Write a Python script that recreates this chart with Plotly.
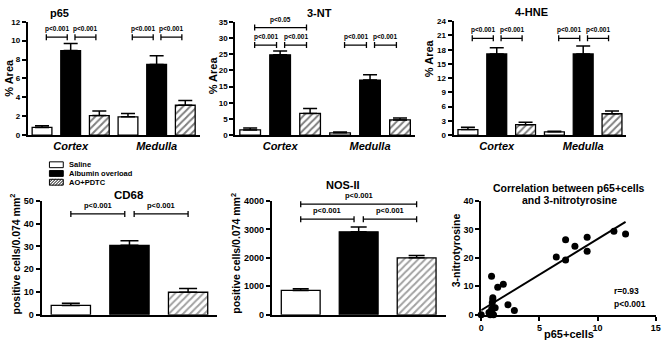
import plotly.graph_objects as go

W, H = 666, 346
FONT = "Liberation Sans, Arial, Helvetica, sans-serif"


def px(x):
    return x / W


def py(y):
    return 1 - y / H


# ---------------- data ----------------
conditions = ["Saline", "Albumin overload", "AO+PDTC"]
regions = ["Cortex", "Medulla"]

# per condition (Saline, Albumin overload, AO+PDTC), values for [Cortex, Medulla]
p65_mean = [[0.82, 1.94], [8.95, 7.48], [2.07, 3.16]]
p65_err = [[0.18, 0.36], [0.75, 0.92], [0.48, 0.51]]

nt_mean = [[1.6, 0.7], [24.8, 17.0], [6.7, 4.7]]
nt_err = [[0.6, 0.3], [1.2, 1.6], [1.5, 0.6]]

hne_mean = [[1.17, 0.7], [17.1, 17.1], [2.2, 4.5]]
hne_err = [[0.5, 0.12], [1.3, 1.7], [0.5, 0.6]]

# per condition
cd68_mean = [4.1, 30.5, 9.9]
cd68_err = [1.0, 2.0, 1.6]

nos_mean = [857, 2914, 2000]
nos_err = [57, 172, 80]

# correlation scatter
p65_cells = [0, 0.67, 0.78, 0.95, 1.06, 1.2, 0.9, 1.0, 1.0, 0.95, 0.89, 1.42, 1.9,
             2.3, 2.85, 6.45, 7.25, 7.25, 8.05, 9.1, 9.1, 11.4, 12.4]
nitrotyrosine = [0, 0.8, 0, 0.45, 0, 2.5, 2.0, 5.3, 6.0, 4.2, 13.5, 9.7, 10.7,
                 3.5, 1.5, 20.3, 26.4, 19.2, 24.1, 27.2, 22.3, 29.3, 28.4]
fit_x = [0, 12.4]
fit_y = [1.6, 32.6]
corr_r = "r=0.93"
corr_p = "p<0.001"

# tick values
p65_ticks = [0, 2, 4, 6, 8, 10, 12]
nt_ticks = [0, 5, 10, 15, 20, 25, 30, 35]
hne_ticks = [0, 3, 6, 9, 12, 15, 18, 21, 24]
cd68_ticks = [0, 10, 20, 30, 40, 50]
nos_ticks = [0, 1000, 2000, 3000, 4000]
corr_yticks = [0, 10, 20, 30, 40]
corr_xticks = [0, 5, 10, 15]

# ---------------- styles ----------------
fills = ["white", "black", "white"]
patterns = ["", "", "/"]
PAT = dict(fgcolor="black", bgcolor="white", size=5, solidity=0.4)

fig = go.Figure()
shapes = []
annotations = []

BW = 0.23  # bar width in category units for grouped panels


def add_grouped(means, errs, xa, ya, capw):
    for k in range(3):
        fig.add_trace(go.Bar(
            x=regions, y=means[k], xaxis=xa, yaxis=ya,
            width=BW, offset=(k - 1) / 3 - BW / 2,
            marker=dict(color=fills[k], line=dict(color="black", width=1.3),
                        pattern=dict(shape=patterns[k], **PAT)),
            error_y=dict(type="data", symmetric=False, array=errs[k], arrayminus=[0] * len(errs[k]),
                         color="black", thickness=1.5, width=capw),
            name=conditions[k], showlegend=False, hoverinfo="skip"))


def add_single(means, errs, xa, ya, capw):
    fig.add_trace(go.Bar(
        x=conditions, y=means, xaxis=xa, yaxis=ya, width=0.67,
        marker=dict(color=fills, line=dict(color="black", width=1.3),
                    pattern=dict(shape=patterns, **PAT)),
        error_y=dict(type="data", symmetric=False, array=errs, arrayminus=[0] * len(errs),
                     color="black", thickness=1.5, width=capw),
        showlegend=False, hoverinfo="skip"))


add_grouped(p65_mean, p65_err, "x", "y", 7)
add_grouped(nt_mean, nt_err, "x2", "y2", 7)
add_grouped(hne_mean, hne_err, "x3", "y3", 7)
add_single(cd68_mean, cd68_err, "x4", "y4", 9)
add_single(nos_mean, nos_err, "x5", "y5", 8)

fig.add_trace(go.Scatter(x=fit_x, y=fit_y, xaxis="x6", yaxis="y6", mode="lines",
                         line=dict(color="black", width=2), showlegend=False, hoverinfo="skip"))
fig.add_trace(go.Scatter(x=p65_cells, y=nitrotyrosine, xaxis="x6", yaxis="y6", mode="markers",
                         marker=dict(color="black", size=7), cliponaxis=False,
                         showlegend=False, hoverinfo="skip"))


# ---------------- brackets ----------------
def bracket(xr, yr, x0, x1, y, text, fs):
    ln = dict(color="black", width=1.3)
    shapes.append(dict(type="line", xref=xr, yref=yr, x0=x0, x1=x1, y0=y, y1=y, line=ln))
    for xx in (x0, x1):
        shapes.append(dict(type="line", xref=xr, yref=yr, x0=xx, x1=xx,
                           ysizemode="pixel", yanchor=y, y0=-3, y1=3, line=ln))
    annotations.append(dict(xref=xr, yref=yr, x=(x0 + x1) / 2, y=y, text=text, showarrow=False,
                            yanchor="bottom", yshift=2,
                            font=dict(family=FONT, size=fs, color="black", weight="bold")))


def gpos(g, k):
    return g + (k - 1) / 3


def group_brackets(xr, yr, y, fs):
    for g in (0, 1):
        bracket(xr, yr, gpos(g, 0) + 0.05, gpos(g, 1) - 0.04, y, "p<0.001", fs)
        bracket(xr, yr, gpos(g, 1) + 0.05, gpos(g, 2) - 0.04, y, "p<0.001", fs)


group_brackets("x", "y", 10.37, 6.5)
group_brackets("x2", "y2", 27.8, 6.5)
bracket("x2", "y2", gpos(0, 0) + 0.05, gpos(0, 2) - 0.04, 33.2, "p<0.05", 6.5)
group_brackets("x3", "y3", 20.4, 6.5)

bracket("x4", "y4", 0.0, 0.92, 44.3, "p<0.001", 7.5)
bracket("x4", "y4", 1.08, 2.0, 44.3, "p<0.001", 7.5)
bracket("x5", "y5", 0.0, 0.92, 3360, "p<0.001", 7.5)
bracket("x5", "y5", 1.08, 2.0, 3360, "p<0.001", 7.5)
bracket("x5", "y5", 0.0, 2.0, 3886, "p<0.001", 7.5)


# ---------------- text ----------------
def txt(x, y, text, size, angle=0, xanchor="center", yanchor="middle"):
    annotations.append(dict(xref="paper", yref="paper", x=px(x), y=py(y), text=text,
                            showarrow=False, textangle=angle, xanchor=xanchor, yanchor=yanchor,
                            font=dict(family=FONT, size=size, color="black", weight="bold")))


txt(57, 8, "p65", 11)
txt(320, 8, "3-NT", 11)
txt(535, 7, "4-HNE", 11)
txt(128, 196, "CD68", 11.5)
txt(344, 185.5, "NOS-II", 11)
txt(573, 188.5, "Correlation between p65+cells", 10.5)
txt(573, 200.5, "and 3-nitrotyrosine", 10.5)

txt(6, 75, "% Area", 11, -90)
txt(212, 72, "% Area", 11, -90)
txt(432, 55, "% Area", 11, -90)
txt(12, 256, "positive cells/0.074 mm<sup>2</sup>", 10.5, -90)
txt(235, 256, "positive cells/0.074 mm<sup>2</sup>", 10.5, -90)
txt(458, 252, "3-nitrotyrosine", 10.5, -90)
txt(573, 339, "p65+cells", 11)
txt(616, 295, corr_r, 8.5, xanchor="left")
txt(616, 308, corr_p, 8.5, xanchor="left")

# ---------------- legend (drawn) ----------------
leg_rows = [164.5, 173.5, 182.5]
for k, yc in enumerate(leg_rows):
    shapes.append(dict(type="rect", xref="paper", yref="paper", x0=px(47), x1=px(61),
                       y0=py(yc + 3), y1=py(yc - 3), fillcolor=fills[k],
                       line=dict(color="black", width=1)))
    txt(65, yc, conditions[k], 7.5, xanchor="left")
# hatch for AO+PDTC box
yc = leg_rows[2]
ybot = yc + 3
segs = []
for xs in range(41, 62, 3):
    t0 = max(0, 47 - xs)
    t1 = min(6, 61 - xs)
    if t1 > t0:
        segs.append("M%.5f,%.5f L%.5f,%.5f" % (px(xs + t0), py(ybot - t0), px(xs + t1), py(ybot - t1)))
shapes.append(dict(type="path", xref="paper", yref="paper", path=" ".join(segs),
                   line=dict(color="black", width=1)))


# ---------------- axes ----------------
def yaxis(dom, top, tickvals, anchor, fs):
    return dict(domain=[py(dom[1]), py(dom[0])], range=[0, top * 1.002], tickmode="array",
                tickvals=tickvals, ticktext=[str(v) for v in tickvals],
                showline=True, linecolor="black", linewidth=1.8, ticks="outside", ticklen=4,
                tickwidth=1.5, tickcolor="black", showgrid=False, zeroline=False, anchor=anchor,
                ticklabeloverflow="allow",
                tickfont=dict(family=FONT, size=fs, color="black", weight="bold"))


def xcat(dom, rng, anchor, labels=True):
    return dict(domain=[px(dom[0]), px(dom[1])], range=rng, type="category", showline=True,
                linecolor="black", linewidth=1.8, ticks="", showgrid=False, zeroline=False,
                anchor=anchor, showticklabels=labels, ticklabeloverflow="allow",
                tickfont=dict(family=FONT, size=11, color="black", weight="bold", style="italic"))


TOP = (17, 134)
BOT = (201.5, 319)

fig.update_layout(
    width=W, height=H, margin=dict(l=0, r=0, t=0, b=0, pad=0),
    plot_bgcolor="white", paper_bgcolor="white", barmode="overlay", showlegend=False,
    font=dict(family=FONT, color="black"),
    xaxis=xcat((25, 199), [-0.5, 1.5], "y"),
    yaxis=yaxis(TOP, 12, p65_ticks, "x", 8),
    xaxis2=xcat((235, 417), [-0.5, 1.5], "y2"),
    yaxis2=yaxis(TOP, 35, nt_ticks, "x2", 8),
    xaxis3=xcat((456, 631), [-0.5, 1.5], "y3"),
    yaxis3=yaxis((16.5, 134), 24, hne_ticks, "x3", 8),
    xaxis4=xcat((39, 217), [-0.5, 2.5], "y4", labels=False),
    yaxis4=yaxis(BOT, 50, cd68_ticks, "x4", 9),
    xaxis5=xcat((272, 448), [-0.5, 2.5], "y5", labels=False),
    yaxis5=yaxis(BOT, 4000, nos_ticks, "x5", 9),
    xaxis6=dict(domain=[px(484), px(661)], range=[0, 15.02], tickmode="array", tickvals=corr_xticks,
                ticktext=[str(v) for v in corr_xticks],
                showline=True, linecolor="black", linewidth=1.8, ticks="outside", ticklen=4,
                tickwidth=1.5, tickcolor="black", showgrid=False, zeroline=False, anchor="y6",
                ticklabeloverflow="allow",
                tickfont=dict(family=FONT, size=9, color="black", weight="bold")),
    yaxis6=yaxis(BOT, 40, corr_yticks, "x6", 9),
    shapes=shapes,
    annotations=annotations,
)

fig.write_html("out.html", config={"displayModeBar": False},
               post_script="document.body.style.margin='0px';document.body.style.overflow='hidden';")
